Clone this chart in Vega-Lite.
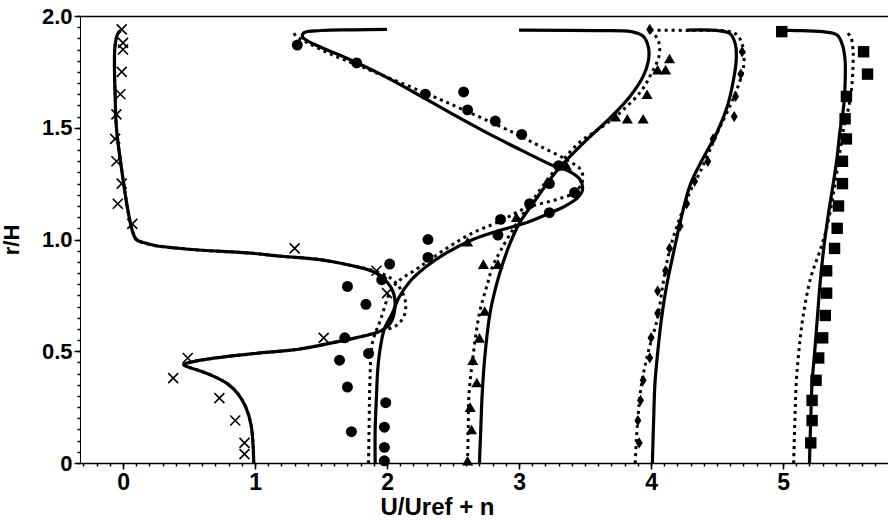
{
  "$schema": "https://vega.github.io/schema/vega-lite/v6.json",
  "width": 808,
  "height": 447,
  "autosize": {"type": "none"},
  "padding": {"left": 80, "top": 16, "right": 0, "bottom": 61},
  "background": "white",
  "config": {
    "view": {"stroke": null},
    "axis": {
      "grid": false,
      "domainColor": "black",
      "tickColor": "black",
      "labelColor": "black",
      "titleColor": "black",
      "labelFont": "Liberation Sans",
      "titleFont": "Liberation Sans",
      "labelFontSize": 23,
      "titleFontSize": 24,
      "labelFontWeight": "bold",
      "titleFontWeight": "bold"
    }
  },
  "datasets": {
    "curves": [
      {"p":0,"m":"s","u":0.99,"r":0},{"p":0,"m":"s","u":0.985,"r":0.08},{"p":0,"m":"s","u":0.97,"r":0.17},{"p":0,"m":"s","u":0.93,"r":0.25},{"p":0,"m":"s","u":0.87,"r":0.31},{"p":0,"m":"s","u":0.79,"r":0.355},{"p":0,"m":"s","u":0.68,"r":0.39},{"p":0,"m":"s","u":0.57,"r":0.415},{"p":0,"m":"s","u":0.49,"r":0.43},{"p":0,"m":"s","u":0.46,"r":0.44},{"p":0,"m":"s","u":0.52,"r":0.452},{"p":0,"m":"s","u":0.70,"r":0.47},{"p":0,"m":"s","u":1.0,"r":0.49},{"p":0,"m":"s","u":1.34,"r":0.51},{"p":0,"m":"s","u":1.60,"r":0.54},{"p":0,"m":"s","u":1.80,"r":0.565},{"p":0,"m":"s","u":1.95,"r":0.59},{"p":0,"m":"s","u":2.03,"r":0.63},{"p":0,"m":"s","u":2.06,"r":0.70},{"p":0,"m":"s","u":2.05,"r":0.76},{"p":0,"m":"s","u":2.0,"r":0.81},{"p":0,"m":"s","u":1.90,"r":0.855},{"p":0,"m":"s","u":1.72,"r":0.885},{"p":0,"m":"s","u":1.49,"r":0.91},{"p":0,"m":"s","u":1.20,"r":0.925},{"p":0,"m":"s","u":0.94,"r":0.94},{"p":0,"m":"s","u":0.60,"r":0.952},{"p":0,"m":"s","u":0.40,"r":0.962},{"p":0,"m":"s","u":0.25,"r":0.972},{"p":0,"m":"s","u":0.16,"r":0.985},{"p":0,"m":"s","u":0.10,"r":1.0},{"p":0,"m":"s","u":0.07,"r":1.04},{"p":0,"m":"s","u":0.04,"r":1.12},{"p":0,"m":"s","u":0.0,"r":1.27},{"p":0,"m":"s","u":-0.05,"r":1.50},{"p":0,"m":"s","u":-0.06,"r":1.65},{"p":0,"m":"s","u":-0.065,"r":1.78},{"p":0,"m":"s","u":-0.06,"r":1.87},{"p":0,"m":"s","u":-0.04,"r":1.92},{"p":0,"m":"s","u":-0.02,"r":1.935},
      {"p":0,"m":"d","u":0.99,"r":0},{"p":0,"m":"d","u":0.985,"r":0.08},{"p":0,"m":"d","u":0.97,"r":0.17},{"p":0,"m":"d","u":0.93,"r":0.25},{"p":0,"m":"d","u":0.87,"r":0.31},{"p":0,"m":"d","u":0.79,"r":0.355},{"p":0,"m":"d","u":0.68,"r":0.39},{"p":0,"m":"d","u":0.57,"r":0.415},{"p":0,"m":"d","u":0.49,"r":0.43},{"p":0,"m":"d","u":0.46,"r":0.44},{"p":0,"m":"d","u":0.52,"r":0.452},{"p":0,"m":"d","u":0.70,"r":0.47},{"p":0,"m":"d","u":1.0,"r":0.49},{"p":0,"m":"d","u":1.34,"r":0.51},{"p":0,"m":"d","u":1.60,"r":0.54},{"p":0,"m":"d","u":1.80,"r":0.565},{"p":0,"m":"d","u":1.95,"r":0.59},{"p":0,"m":"d","u":2.07,"r":0.615},{"p":0,"m":"d","u":2.13,"r":0.66},{"p":0,"m":"d","u":2.14,"r":0.72},{"p":0,"m":"d","u":2.10,"r":0.78},{"p":0,"m":"d","u":2.02,"r":0.83},{"p":0,"m":"d","u":1.90,"r":0.86},{"p":0,"m":"d","u":1.72,"r":0.885},{"p":0,"m":"d","u":1.49,"r":0.91},{"p":0,"m":"d","u":1.20,"r":0.925},{"p":0,"m":"d","u":0.94,"r":0.94},{"p":0,"m":"d","u":0.60,"r":0.952},{"p":0,"m":"d","u":0.40,"r":0.962},{"p":0,"m":"d","u":0.25,"r":0.972},{"p":0,"m":"d","u":0.16,"r":0.985},{"p":0,"m":"d","u":0.10,"r":1.0},{"p":0,"m":"d","u":0.07,"r":1.04},{"p":0,"m":"d","u":0.04,"r":1.12},{"p":0,"m":"d","u":0.0,"r":1.27},{"p":0,"m":"d","u":-0.05,"r":1.50},{"p":0,"m":"d","u":-0.06,"r":1.65},{"p":0,"m":"d","u":-0.065,"r":1.78},{"p":0,"m":"d","u":-0.06,"r":1.87},{"p":0,"m":"d","u":-0.04,"r":1.92},{"p":0,"m":"d","u":-0.02,"r":1.935},
      {"p":1,"m":"s","u":1.91,"r":0},{"p":1,"m":"s","u":1.91,"r":0.15},{"p":1,"m":"s","u":1.92,"r":0.30},{"p":1,"m":"s","u":1.93,"r":0.42},{"p":1,"m":"s","u":1.95,"r":0.52},{"p":1,"m":"s","u":1.98,"r":0.60},{"p":1,"m":"s","u":2.04,"r":0.67},{"p":1,"m":"s","u":2.09,"r":0.74},{"p":1,"m":"s","u":2.17,"r":0.81},{"p":1,"m":"s","u":2.30,"r":0.88},{"p":1,"m":"s","u":2.45,"r":0.94},{"p":1,"m":"s","u":2.65,"r":1.0},{"p":1,"m":"s","u":2.85,"r":1.04},{"p":1,"m":"s","u":3.03,"r":1.07},{"p":1,"m":"s","u":3.20,"r":1.11},{"p":1,"m":"s","u":3.35,"r":1.15},{"p":1,"m":"s","u":3.44,"r":1.185},{"p":1,"m":"s","u":3.48,"r":1.22},{"p":1,"m":"s","u":3.46,"r":1.27},{"p":1,"m":"s","u":3.38,"r":1.305},{"p":1,"m":"s","u":3.26,"r":1.33},{"p":1,"m":"s","u":3.05,"r":1.39},{"p":1,"m":"s","u":2.78,"r":1.47},{"p":1,"m":"s","u":2.50,"r":1.56},{"p":1,"m":"s","u":2.20,"r":1.66},{"p":1,"m":"s","u":1.95,"r":1.74},{"p":1,"m":"s","u":1.70,"r":1.81},{"p":1,"m":"s","u":1.50,"r":1.86},{"p":1,"m":"s","u":1.36,"r":1.905},{"p":1,"m":"s","u":1.37,"r":1.925},{"p":1,"m":"s","u":1.50,"r":1.935},{"p":1,"m":"s","u":1.75,"r":1.938},{"p":1,"m":"s","u":2.0,"r":1.94},
      {"p":1,"m":"d","u":1.86,"r":0},{"p":1,"m":"d","u":1.865,"r":0.2},{"p":1,"m":"d","u":1.87,"r":0.36},{"p":1,"m":"d","u":1.89,"r":0.54},{"p":1,"m":"d","u":1.95,"r":0.64},{"p":1,"m":"d","u":2.02,"r":0.76},{"p":1,"m":"d","u":2.08,"r":0.81},{"p":1,"m":"d","u":2.23,"r":0.87},{"p":1,"m":"d","u":2.45,"r":0.96},{"p":1,"m":"d","u":2.65,"r":1.03},{"p":1,"m":"d","u":2.85,"r":1.08},{"p":1,"m":"d","u":3.05,"r":1.14},{"p":1,"m":"d","u":3.29,"r":1.18},{"p":1,"m":"d","u":3.42,"r":1.21},{"p":1,"m":"d","u":3.48,"r":1.26},{"p":1,"m":"d","u":3.47,"r":1.31},{"p":1,"m":"d","u":3.38,"r":1.35},{"p":1,"m":"d","u":3.15,"r":1.42},{"p":1,"m":"d","u":2.95,"r":1.48},{"p":1,"m":"d","u":2.58,"r":1.58},{"p":1,"m":"d","u":2.27,"r":1.66},{"p":1,"m":"d","u":1.82,"r":1.77},{"p":1,"m":"d","u":1.57,"r":1.83},{"p":1,"m":"d","u":1.40,"r":1.88},{"p":1,"m":"d","u":1.31,"r":1.91},{"p":1,"m":"d","u":1.29,"r":1.93},
      {"p":2,"m":"s","u":2.70,"r":0},{"p":2,"m":"s","u":2.71,"r":0.15},{"p":2,"m":"s","u":2.72,"r":0.30},{"p":2,"m":"s","u":2.74,"r":0.47},{"p":2,"m":"s","u":2.78,"r":0.67},{"p":2,"m":"s","u":2.83,"r":0.80},{"p":2,"m":"s","u":2.87,"r":0.88},{"p":2,"m":"s","u":2.93,"r":0.98},{"p":2,"m":"s","u":3.0,"r":1.07},{"p":2,"m":"s","u":3.14,"r":1.19},{"p":2,"m":"s","u":3.29,"r":1.31},{"p":2,"m":"s","u":3.52,"r":1.45},{"p":2,"m":"s","u":3.70,"r":1.55},{"p":2,"m":"s","u":3.84,"r":1.64},{"p":2,"m":"s","u":3.94,"r":1.73},{"p":2,"m":"s","u":3.98,"r":1.80},{"p":2,"m":"s","u":3.98,"r":1.86},{"p":2,"m":"s","u":3.94,"r":1.91},{"p":2,"m":"s","u":3.85,"r":1.93},{"p":2,"m":"s","u":3.60,"r":1.935},{"p":2,"m":"s","u":3.0,"r":1.937},
      {"p":2,"m":"d","u":2.61,"r":0},{"p":2,"m":"d","u":2.615,"r":0.15},{"p":2,"m":"d","u":2.62,"r":0.30},{"p":2,"m":"d","u":2.65,"r":0.47},{"p":2,"m":"d","u":2.70,"r":0.67},{"p":2,"m":"d","u":2.76,"r":0.80},{"p":2,"m":"d","u":2.80,"r":0.88},{"p":2,"m":"d","u":2.86,"r":0.95},{"p":2,"m":"d","u":2.98,"r":1.07},{"p":2,"m":"d","u":3.12,"r":1.19},{"p":2,"m":"d","u":3.27,"r":1.31},{"p":2,"m":"d","u":3.45,"r":1.43},{"p":2,"m":"d","u":3.62,"r":1.50},{"p":2,"m":"d","u":3.77,"r":1.57},{"p":2,"m":"d","u":3.92,"r":1.66},{"p":2,"m":"d","u":4.0,"r":1.74},{"p":2,"m":"d","u":4.06,"r":1.82},{"p":2,"m":"d","u":4.06,"r":1.88},{"p":2,"m":"d","u":4.02,"r":1.92},{"p":2,"m":"d","u":3.96,"r":1.935},
      {"p":3,"m":"s","u":4.01,"r":0},{"p":3,"m":"s","u":4.02,"r":0.2},{"p":3,"m":"s","u":4.03,"r":0.36},{"p":3,"m":"s","u":4.06,"r":0.55},{"p":3,"m":"s","u":4.08,"r":0.65},{"p":3,"m":"s","u":4.12,"r":0.80},{"p":3,"m":"s","u":4.17,"r":0.94},{"p":3,"m":"s","u":4.23,"r":1.10},{"p":3,"m":"s","u":4.30,"r":1.25},{"p":3,"m":"s","u":4.40,"r":1.37},{"p":3,"m":"s","u":4.50,"r":1.48},{"p":3,"m":"s","u":4.58,"r":1.60},{"p":3,"m":"s","u":4.62,"r":1.70},{"p":3,"m":"s","u":4.645,"r":1.80},{"p":3,"m":"s","u":4.64,"r":1.87},{"p":3,"m":"s","u":4.60,"r":1.92},{"p":3,"m":"s","u":4.50,"r":1.935},{"p":3,"m":"s","u":4.27,"r":1.937},
      {"p":3,"m":"d","u":3.88,"r":0},{"p":3,"m":"d","u":3.90,"r":0.2},{"p":3,"m":"d","u":3.93,"r":0.36},{"p":3,"m":"d","u":3.98,"r":0.50},{"p":3,"m":"d","u":4.05,"r":0.65},{"p":3,"m":"d","u":4.09,"r":0.80},{"p":3,"m":"d","u":4.14,"r":0.95},{"p":3,"m":"d","u":4.22,"r":1.10},{"p":3,"m":"d","u":4.30,"r":1.22},{"p":3,"m":"d","u":4.37,"r":1.30},{"p":3,"m":"d","u":4.46,"r":1.42},{"p":3,"m":"d","u":4.52,"r":1.50},{"p":3,"m":"d","u":4.60,"r":1.60},{"p":3,"m":"d","u":4.65,"r":1.67},{"p":3,"m":"d","u":4.70,"r":1.77},{"p":3,"m":"d","u":4.70,"r":1.85},{"p":3,"m":"d","u":4.66,"r":1.91},{"p":3,"m":"d","u":4.60,"r":1.93},{"p":3,"m":"d","u":4.30,"r":1.935},{"p":3,"m":"d","u":3.99,"r":1.937},
      {"p":4,"m":"s","u":5.20,"r":0},{"p":4,"m":"s","u":5.21,"r":0.2},{"p":4,"m":"s","u":5.22,"r":0.36},{"p":4,"m":"s","u":5.24,"r":0.5},{"p":4,"m":"s","u":5.26,"r":0.65},{"p":4,"m":"s","u":5.28,"r":0.80},{"p":4,"m":"s","u":5.31,"r":0.97},{"p":4,"m":"s","u":5.34,"r":1.10},{"p":4,"m":"s","u":5.38,"r":1.25},{"p":4,"m":"s","u":5.41,"r":1.37},{"p":4,"m":"s","u":5.43,"r":1.48},{"p":4,"m":"s","u":5.46,"r":1.60},{"p":4,"m":"s","u":5.47,"r":1.70},{"p":4,"m":"s","u":5.47,"r":1.80},{"p":4,"m":"s","u":5.45,"r":1.87},{"p":4,"m":"s","u":5.41,"r":1.915},{"p":4,"m":"s","u":5.30,"r":1.93},{"p":4,"m":"s","u":5.10,"r":1.935},{"p":4,"m":"s","u":4.99,"r":1.935},
      {"p":4,"m":"d","u":5.08,"r":0},{"p":4,"m":"d","u":5.09,"r":0.2},{"p":4,"m":"d","u":5.10,"r":0.36},{"p":4,"m":"d","u":5.12,"r":0.50},{"p":4,"m":"d","u":5.15,"r":0.65},{"p":4,"m":"d","u":5.21,"r":0.83},{"p":4,"m":"d","u":5.28,"r":0.95},{"p":4,"m":"d","u":5.33,"r":1.05},{"p":4,"m":"d","u":5.38,"r":1.2},{"p":4,"m":"d","u":5.42,"r":1.35},{"p":4,"m":"d","u":5.46,"r":1.5},{"p":4,"m":"d","u":5.50,"r":1.6},{"p":4,"m":"d","u":5.52,"r":1.68},{"p":4,"m":"d","u":5.53,"r":1.78},{"p":4,"m":"d","u":5.53,"r":1.85},{"p":4,"m":"d","u":5.51,"r":1.91},{"p":4,"m":"d","u":5.47,"r":1.93}
    ],
    "markers": [
      {"p":0,"u":-0.01,"r":1.94},{"p":0,"u":0.0,"r":1.88},{"p":0,"u":0.0,"r":1.85},{"p":0,"u":-0.01,"r":1.75},{"p":0,"u":-0.02,"r":1.65},{"p":0,"u":-0.05,"r":1.56},{"p":0,"u":-0.06,"r":1.45},{"p":0,"u":-0.05,"r":1.35},{"p":0,"u":-0.01,"r":1.25},{"p":0,"u":-0.04,"r":1.16},{"p":0,"u":0.07,"r":1.07},{"p":0,"u":1.30,"r":0.96},{"p":0,"u":1.92,"r":0.86},{"p":0,"u":2.0,"r":0.76},{"p":0,"u":1.52,"r":0.56},{"p":0,"u":0.49,"r":0.47},{"p":0,"u":0.38,"r":0.38},{"p":0,"u":0.73,"r":0.29},{"p":0,"u":0.85,"r":0.19},{"p":0,"u":0.92,"r":0.09},{"p":0,"u":0.92,"r":0.04},
      {"p":1,"u":1.98,"r":0.01},{"p":1,"u":1.98,"r":0.07},{"p":1,"u":1.98,"r":0.16},{"p":1,"u":1.73,"r":0.14},{"p":1,"u":1.99,"r":0.27},{"p":1,"u":1.70,"r":0.34},{"p":1,"u":1.64,"r":0.46},{"p":1,"u":1.86,"r":0.49},{"p":1,"u":1.68,"r":0.56},{"p":1,"u":1.84,"r":0.71},{"p":1,"u":1.70,"r":0.79},{"p":1,"u":1.96,"r":0.82},{"p":1,"u":2.02,"r":0.89},{"p":1,"u":2.31,"r":0.92},{"p":1,"u":2.31,"r":1.0},{"p":1,"u":2.84,"r":1.02},{"p":1,"u":2.86,"r":1.09},{"p":1,"u":3.08,"r":1.16},{"p":1,"u":3.23,"r":1.12},{"p":1,"u":3.42,"r":1.21},{"p":1,"u":3.23,"r":1.25},{"p":1,"u":3.30,"r":1.33},{"p":1,"u":3.02,"r":1.47},{"p":1,"u":2.82,"r":1.53},{"p":1,"u":2.61,"r":1.58},{"p":1,"u":2.58,"r":1.66},{"p":1,"u":2.29,"r":1.65},{"p":1,"u":1.77,"r":1.79},{"p":1,"u":1.32,"r":1.87},
      {"p":2,"u":2.61,"r":0.01},{"p":2,"u":2.64,"r":0.15},{"p":2,"u":2.63,"r":0.25},{"p":2,"u":2.68,"r":0.36},{"p":2,"u":2.65,"r":0.46},{"p":2,"u":2.70,"r":0.56},{"p":2,"u":2.74,"r":0.68},{"p":2,"u":2.73,"r":0.89},{"p":2,"u":2.84,"r":0.89},{"p":2,"u":2.61,"r":0.99},{"p":2,"u":2.98,"r":1.10},{"p":2,"u":3.36,"r":1.33},{"p":2,"u":3.73,"r":1.55},{"p":2,"u":3.82,"r":1.54},{"p":2,"u":3.94,"r":1.54},{"p":2,"u":3.97,"r":1.65},{"p":2,"u":4.05,"r":1.76},{"p":2,"u":4.11,"r":1.76},{"p":2,"u":4.14,"r":1.81},
      {"p":3,"u":3.91,"r":0.09},{"p":3,"u":3.90,"r":0.19},{"p":3,"u":3.92,"r":0.28},{"p":3,"u":3.94,"r":0.37},{"p":3,"u":3.99,"r":0.47},{"p":3,"u":4.0,"r":0.56},{"p":3,"u":4.05,"r":0.67},{"p":3,"u":4.05,"r":0.77},{"p":3,"u":4.11,"r":0.86},{"p":3,"u":4.14,"r":0.96},{"p":3,"u":4.22,"r":1.06},{"p":3,"u":4.27,"r":1.16},{"p":3,"u":4.33,"r":1.26},{"p":3,"u":4.43,"r":1.35},{"p":3,"u":4.47,"r":1.45},{"p":3,"u":4.63,"r":1.55},{"p":3,"u":4.64,"r":1.64},{"p":3,"u":4.68,"r":1.74},{"p":3,"u":4.69,"r":1.84},{"p":3,"u":3.99,"r":1.94},
      {"p":4,"u":5.21,"r":0.09},{"p":4,"u":5.22,"r":0.19},{"p":4,"u":5.22,"r":0.28},{"p":4,"u":5.25,"r":0.37},{"p":4,"u":5.27,"r":0.47},{"p":4,"u":5.30,"r":0.56},{"p":4,"u":5.32,"r":0.66},{"p":4,"u":5.33,"r":0.76},{"p":4,"u":5.33,"r":0.86},{"p":4,"u":5.39,"r":0.96},{"p":4,"u":5.41,"r":1.05},{"p":4,"u":5.42,"r":1.15},{"p":4,"u":5.45,"r":1.25},{"p":4,"u":5.45,"r":1.35},{"p":4,"u":5.48,"r":1.45},{"p":4,"u":5.47,"r":1.54},{"p":4,"u":5.48,"r":1.64},{"p":4,"u":5.64,"r":1.74},{"p":4,"u":5.61,"r":1.84},{"p":4,"u":4.99,"r":1.93}
    ]
  },
  "layer": [
    {
      "data": {"name": "curves"},
      "transform": [{"filter": "datum.m == 's'"}],
      "mark": {"type": "line", "color": "black", "strokeWidth": 3.2, "interpolate": "catmull-rom", "clip": true},
      "encoding": {
        "x": {"field": "u", "type": "quantitative", "scale": {"domain": [-0.326, 5.795], "nice": false, "zero": false},
          "axis": {"orient": "bottom", "values": [0, 1, 2, 3, 4, 5], "format": "d", "tickSize": 6, "tickWidth": 1.5, "domainWidth": 1.5, "labelPadding": 2, "title": "U/Uref + n", "titleX": 357, "titleY": 32, "titleBaseline": "top"}},
        "y": {"field": "r", "type": "quantitative", "scale": {"domain": [0, 2], "nice": false, "zero": false},
          "axis": {"orient": "left", "values": [0, 0.5, 1, 1.5, 2], "labelExpr": "datum.value == 0 ? '0' : format(datum.value, '.1f')", "labelFontSize": 22, "tickSize": 6, "tickWidth": 1.5, "domainWidth": 1, "labelPadding": 2, "title": "r/H", "titleFontSize": 22, "titleX": -57}},
        "detail": {"field": "p", "type": "nominal"},
        "order": {"value": null}
      }
    },
    {
      "data": {"name": "curves"},
      "transform": [{"filter": "datum.m == 'd'"}],
      "mark": {"type": "line", "color": "black", "strokeWidth": 3, "strokeDash": [3, 4], "interpolate": "catmull-rom", "clip": true},
      "encoding": {
        "x": {"field": "u", "type": "quantitative", "scale": {"domain": [-0.326, 5.795], "nice": false, "zero": false},
          "axis": {"orient": "bottom", "values": [-0.3,-0.2,-0.1,0,0.1,0.2,0.3,0.4,0.5,0.6,0.7,0.8,0.9,1,1.1,1.2,1.3,1.4,1.5,1.6,1.7,1.8,1.9,2,2.1,2.2,2.3,2.4,2.5,2.6,2.7,2.8,2.9,3,3.1,3.2,3.3,3.4,3.5,3.6,3.7,3.8,3.9,4,4.1,4.2,4.3,4.4,4.5,4.6,4.7,4.8,4.9,5,5.1,5.2,5.3,5.4,5.5,5.6,5.7], "tickSize": 3, "tickWidth": 1.5, "labels": false, "domain": false, "title": null}},
        "y": {"field": "r", "type": "quantitative", "scale": {"domain": [0, 2], "nice": false, "zero": false},
          "axis": {"orient": "left", "values": [0,0.05,0.1,0.15,0.2,0.25,0.3,0.35,0.4,0.45,0.5,0.55,0.6,0.65,0.7,0.75,0.8,0.85,0.9,0.95,1,1.05,1.1,1.15,1.2,1.25,1.3,1.35,1.4,1.45,1.5,1.55,1.6,1.65,1.7,1.75,1.8,1.85,1.9,1.95,2], "tickSize": 3, "tickWidth": 1.5, "labels": false, "domain": false, "title": null}},
        "detail": {"field": "p", "type": "nominal"},
        "order": {"value": null}
      }
    },
    {
      "data": {"name": "markers"},
      "transform": [{"filter": "datum.p == 0"}],
      "mark": {"type": "point", "shape": "M-1,-1L1,1M-1,1L1,-1", "filled": false, "stroke": "black", "strokeWidth": 1.6, "size": 100, "opacity": 1},
      "encoding": {
        "x": {"field": "u", "type": "quantitative", "scale": {"domain": [-0.326, 5.795], "nice": false, "zero": false},
          "axis": {"orient": "top", "domain": true, "domainWidth": 1.5, "ticks": false, "labels": false, "title": null}},
        "y": {"field": "r", "type": "quantitative", "scale": {"domain": [0, 2], "nice": false, "zero": false}, "axis": null}
      }
    },
    {
      "data": {"name": "markers"},
      "transform": [{"filter": "datum.p > 0"}],
      "mark": {"type": "point", "filled": true, "color": "black", "opacity": 1},
      "encoding": {
        "x": {"field": "u", "type": "quantitative", "scale": {"domain": [-0.326, 5.795], "nice": false, "zero": false}, "axis": null},
        "y": {"field": "r", "type": "quantitative", "scale": {"domain": [0, 2], "nice": false, "zero": false}, "axis": null},
        "shape": {"field": "p", "type": "ordinal", "scale": {"domain": [1, 2, 3, 4], "range": ["circle", "triangle-up", "M0,-1L0.62,0L0,1L-0.62,0Z", "square"]}, "legend": null},
        "size": {"field": "p", "type": "ordinal", "scale": {"domain": [1, 2, 3, 4], "range": [120, 130, 150, 140]}, "legend": null}
      }
    }
  ],
  "resolve": {"axis": {"x": "independent", "y": "independent"}}
}
